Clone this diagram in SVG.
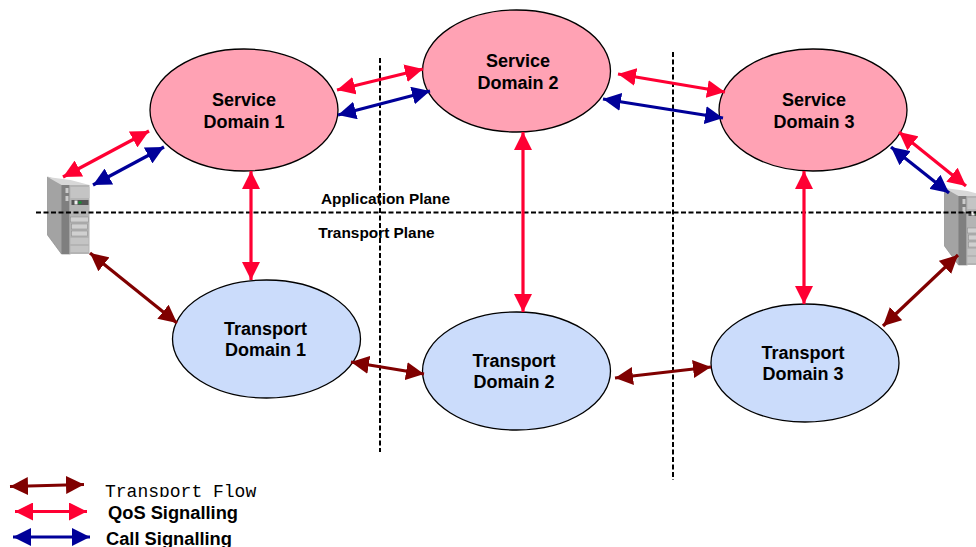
<svg xmlns="http://www.w3.org/2000/svg" width="976" height="547" viewBox="0 0 976 547">
<style>
text{font-family:"Liberation Sans",Arial,sans-serif;font-weight:bold;font-size:18px;fill:#000;text-anchor:middle}
.pl{font-size:15.400px}
.lg{font-size:18.300px;text-anchor:start}
.s{fill:#ffa2b4;stroke:#000;stroke-width:1.3}
.t{fill:#cbdcfb;stroke:#000;stroke-width:1.3}
.r,.b,.m{fill:none;stroke-width:3.200}
.r{stroke:#ff0033;marker-start:url(#ar);marker-end:url(#ar)}
.b{stroke:#000099;marker-start:url(#ab);marker-end:url(#ab)}
.m{stroke:#800000;marker-start:url(#am);marker-end:url(#am)}
.d{stroke:#000;stroke-width:2;stroke-dasharray:5 2.500;fill:none}
</style>
<defs>
<marker id="ar" markerUnits="userSpaceOnUse" markerWidth="19" markerHeight="18" refX="18" refY="9" orient="auto-start-reverse"><path d="M0 0L18 9L0 18z" fill="#ff0033"/></marker>
<marker id="ab" markerUnits="userSpaceOnUse" markerWidth="19" markerHeight="18" refX="18" refY="9" orient="auto-start-reverse"><path d="M0 0L18 9L0 18z" fill="#000099"/></marker>
<marker id="am" markerUnits="userSpaceOnUse" markerWidth="19" markerHeight="18" refX="18" refY="9" orient="auto-start-reverse"><path d="M0 0L18 9L0 18z" fill="#800000"/></marker>
<clipPath id="tf"><rect x="90" y="475" width="180" height="22"/></clipPath>
<g id="srv">
<path d="M0 0L23 8V77H14L0 58z" fill="#a3a3a3" stroke="#8c8c8c" stroke-width=".7"/>
<path d="M0 0L23 3L42 8L14 8z" fill="#d8d8d8"/>
<rect x="14" y="8" width="8" height="69" fill="#7f7f7f"/>
<path d="M22 8H42V77H22z" fill="#b4b4b4"/>
<rect x="23" y="10" width="19" height="11" fill="#c4c4c4"/>
<rect x="24" y="23" width="17" height="5" fill="#555"/>
<rect x="27" y="23.500" width="3" height="4" fill="#eee"/>
<rect x="31" y="24.500" width="3" height="2" fill="#0a9a2a"/>
<rect x="18" y="11" width="3" height="5" fill="#ccc"/>
<rect x="18" y="19" width="3" height="5" fill="#ccc"/>
<rect x="23" y="40" width="18" height="5" fill="#d0d0d0" stroke="#888" stroke-width=".5"/>
<rect x="24" y="47" width="16" height="5" fill="#d0d0d0" stroke="#888" stroke-width=".5"/>
<rect x="24" y="54" width="16" height="5" fill="#d0d0d0" stroke="#888" stroke-width=".5"/>
<rect x="23" y="61" width="18" height="6" fill="#c4c4c4"/>
<rect x="23" y="69" width="18" height="6" fill="#c4c4c4"/>
</g>
</defs>
<rect width="976" height="547" fill="#fff"/>
<g id="server-left"><use href="#srv" x="47.500" y="177"/></g>
<g id="server-right"><use href="#srv" x="944.500" y="188"/></g>
<g id="service-1"><ellipse class="s" cx="244" cy="110" rx="94" ry="61"/><text x="244" y="105.500">Service</text><text x="244" y="127.500">Domain 1</text></g>
<g id="service-2"><ellipse class="s" cx="516.500" cy="71" rx="94" ry="61"/><text x="518" y="66.500">Service</text><text x="518" y="88.500">Domain 2</text></g>
<g id="service-3"><ellipse class="s" cx="813" cy="110" rx="94" ry="61"/><text x="814" y="105.500">Service</text><text x="814" y="127.500">Domain 3</text></g>
<g id="transport-1"><ellipse class="t" cx="266.500" cy="339" rx="94" ry="59"/><text x="265.500" y="334.500">Transport</text><text x="265.500" y="355.500">Domain 1</text></g>
<g id="transport-2"><ellipse class="t" cx="516.500" cy="371" rx="94" ry="59"/><text x="514" y="366.500">Transport</text><text x="514" y="387.500">Domain 2</text></g>
<g id="transport-3"><ellipse class="t" cx="805" cy="363" rx="94" ry="59"/><text x="803" y="358.500">Transport</text><text x="803" y="379.500">Domain 3</text></g>
<g id="connectors">
<path class="d" d="M380 58V452"/>
<path class="d" d="M673 52V480"/>
<path class="d" d="M36 212.500H976"/>
<path class="r" d="M63 177L149 131"/>
<path class="b" d="M93 185L164 147"/>
<path class="m" d="M90 253L177 323"/>
<path class="r" d="M337 90L423 69"/>
<path class="b" d="M338 115L430 91"/>
<path class="r" d="M618 74L725 92"/>
<path class="b" d="M603 99L723 118"/>
<path class="r" d="M899 132L966 186"/>
<path class="b" d="M891 147L949 193"/>
<path class="m" d="M883 326L958 255"/>
<path class="r" d="M251 171V280"/>
<path class="r" d="M523 132V312"/>
<path class="r" d="M804 171V304"/>
<path class="m" d="M351 362L424 374"/>
<path class="m" d="M615 378L711 367"/>
</g>
<g id="plane-labels"><text class="pl" x="385.500" y="204">Application Plane</text><text class="pl" x="376.500" y="238">Transport Plane</text></g>
<g id="legend">
<path class="m" d="M10 486.500L84 484.500"/>
<path class="r" d="M15 511.500H87"/>
<path class="b" d="M13 537H90"/>
<text clip-path="url(#tf)" style="font-family:'Liberation Mono',monospace;font-weight:normal;font-size:18px;text-anchor:start" x="105" y="497">Transport Flow</text>
<text class="lg" x="108" y="518.500">QoS Signalling</text>
<text class="lg" x="106" y="544.500">Call Signalling</text>
</g>
</svg>
